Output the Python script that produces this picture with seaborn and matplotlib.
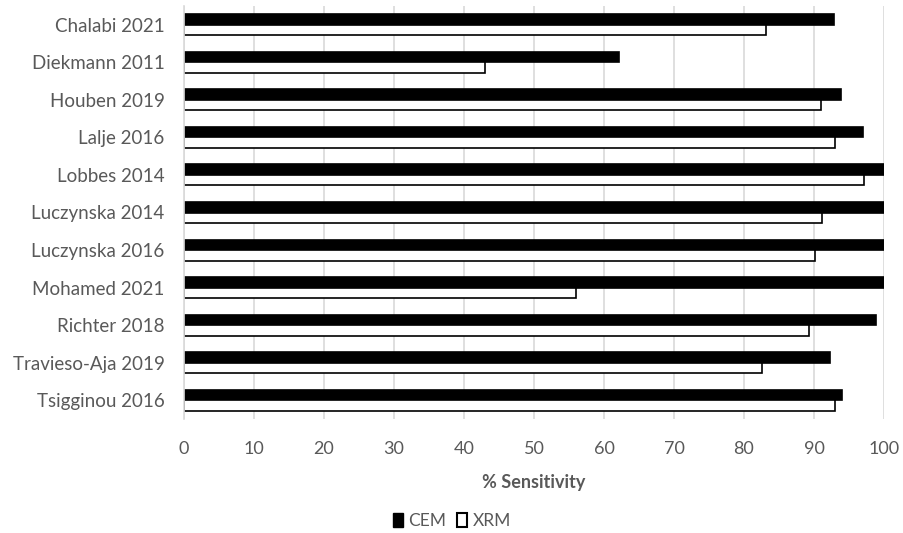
import matplotlib
matplotlib.use("Agg")
import matplotlib.pyplot as plt
import seaborn as sns
import pandas as pd
from matplotlib.patches import Patch

studies = ["Chalabi 2021", "Diekmann 2011", "Houben 2019", "Lalje 2016", "Lobbes 2014",
           "Luczynska 2014", "Luczynska 2016", "Mohamed 2021", "Richter 2018",
           "Travieso-Aja 2019", "Tsigginou 2016"]
cem = [92.9, 62.1, 93.8, 97.0, 100, 100, 100, 100, 98.9, 92.3, 94.0]
xrm = [83.1, 43.0, 91.0, 93.0, 97.1, 91.1, 90.1, 56.0, 89.3, 82.6, 93.0]
series = ["CEM", "XRM"]
xticks = list(range(0, 101, 10))

df = pd.DataFrame({
    "Study": studies * 2,
    "Sensitivity": cem + xrm,
    "Modality": [series[0]] * len(studies) + [series[1]] * len(studies),
})

sns.set_theme(style="white")
plt.rcParams['font.family'] = ['Lato', 'DejaVu Sans']
text_color = "#595959"

fig = plt.figure(figsize=(9.04, 5.33), dpi=100)
ax = fig.add_axes([184 / 904, 1 - 419 / 533, 700 / 904, 413 / 533])

sns.barplot(data=df, y="Study", x="Sensitivity", hue="Modality", order=studies,
            hue_order=series, palette={"CEM": "black", "XRM": "white"},
            width=0.56, orient="h", ax=ax, legend=False, edgecolor="black",
            linewidth=1.2, gap=0)

ax.set_xlim(0, 100)
ax.set_ylim(len(studies) - 0.5, -0.5)
ax.set_xticks(xticks)
ax.set_xticklabels([str(t) for t in xticks])
ax.xaxis.grid(True, color="#d9d9d9", linewidth=1.2)
ax.set_axisbelow(True)
for s in ["top", "right", "bottom"]:
    ax.spines[s].set_visible(False)
ax.spines["left"].set_color("#d9d9d9")
ax.spines["left"].set_linewidth(1.2)
ax.tick_params(axis="both", length=0, colors=text_color)
ax.tick_params(axis="y", labelsize=13.5, pad=14)
ax.tick_params(axis="x", labelsize=13, pad=16)
ax.set_ylabel("")
ax.set_xlabel("% Sensitivity", fontsize=13, fontweight="bold", color=text_color, labelpad=12)

handles = [Patch(facecolor="black", edgecolor="black", label="CEM"),
           Patch(facecolor="white", edgecolor="black", linewidth=1.5, label="XRM")]
fig.legend(handles=handles, loc="center", bbox_to_anchor=(452 / 904, 1 - 521 / 533),
           ncol=2, frameon=False, fontsize=12.5, handlelength=0.6, handleheight=0.8,
           handletextpad=0.3, columnspacing=0.6, labelcolor=text_color)

fig.savefig("out.png", dpi=100)
